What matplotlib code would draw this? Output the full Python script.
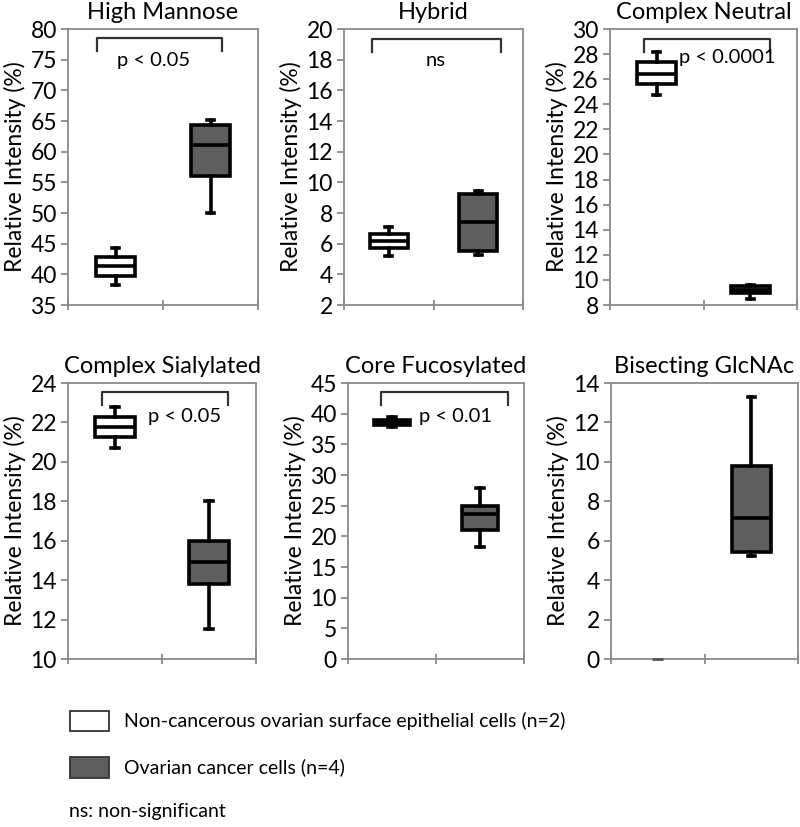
import matplotlib
matplotlib.use("Agg")
import matplotlib.pyplot as plt

plt.rcParams['font.family'] = ['Lato', 'DejaVu Sans']

titles = ["High Mannose", "Hybrid", "Complex Neutral",
          "Complex Sialylated", "Core Fucosylated", "Bisecting GlcNAc"]
ylims = [(35, 80), (2, 20), (8, 30), (10, 24), (0, 45), (0, 14)]
ysteps = [5, 2, 2, 2, 5, 2]

# [whislo, q1, med, q3, whishi]
normal = [
    [38.3, 39.8, 41.3, 42.8, 44.3],
    [5.2, 5.7, 6.2, 6.6, 7.1],
    [24.7, 25.6, 26.4, 27.4, 28.2],
    [20.7, 21.25, 21.75, 22.3, 22.8],
    [37.8, 38.2, 38.6, 39.0, 39.4],
    [0.0, 0.0, 0.0, 0.0, 0.0],
]
cancer = [
    [50.0, 56.1, 61.1, 64.3, 65.1],
    [5.25, 5.55, 7.4, 9.25, 9.45],
    [8.5, 8.95, 9.2, 9.5, 9.6],
    [11.5, 13.8, 14.9, 16.0, 18.0],
    [18.2, 21.0, 23.6, 25.0, 27.9],
    [5.2, 5.45, 7.15, 9.8, 13.3],
]
pvals = ["p < 0.05", "ns", "p < 0.0001", "p < 0.05", "p < 0.01", None]

legend_labels = ["Non-cancerous ovarian surface epithelial cells (n=2)",
                 "Ovarian cancer cells (n=4)"]
note = "ns: non-significant"

W, H = 800, 827
# axes pixel boxes (left, top, right, bottom)
boxes_px = [(68, 29, 258, 305), (344, 29, 523, 305), (610, 29, 797, 305),
            (68, 383, 256, 659), (348, 383, 524, 659), (611, 383, 798, 659)]
# bracket: x0, x1 (axes frac), y top, y tick bottom; text x, y
brackets = [
    (0.15, 0.81, 0.967, 0.92, 0.45, 0.885),
    (0.156, 0.877, 0.964, 0.917, 0.51, 0.885),
    (0.18, 0.856, 0.964, 0.917, 0.625, 0.895),
    (0.18, 0.85, 0.967, 0.92, 0.62, 0.877),
    (0.19, 0.91, 0.967, 0.92, 0.61, 0.878),
    None,
]

fig = plt.figure(figsize=(8, 8.27), dpi=100)
spine_c = "#8a8a8a"
fill_c = "#5e5e5e"

for i in range(6):
    l, t, r, b = boxes_px[i]
    ax = fig.add_axes([l / W, 1 - b / H, (r - l) / W, (b - t) / H])
    stats = []
    for vals in (normal[i], cancer[i]):
        stats.append(dict(whislo=vals[0], q1=vals[1], med=vals[2],
                          q3=vals[3], whishi=vals[4], fliers=[]))
    positions = [0.5, 1.5]
    if max(normal[i]) == 0:
        ax.plot([0.44, 0.56], [normal[i][2]] * 2, color="#555555", lw=2,
                solid_capstyle='butt', clip_on=False, zorder=3)
        st = [stats[1]]
        pos = [1.5]
        fills = [fill_c]
    else:
        st = stats
        pos = positions
        fills = ["white", fill_c]
    bp = ax.bxp(st, positions=pos, widths=0.42, patch_artist=True,
                showfliers=False, capwidths=0.08,
                boxprops=dict(edgecolor="black", linewidth=2.6),
                medianprops=dict(color="black", linewidth=2.6),
                whiskerprops=dict(color="black", linewidth=2.6),
                capprops=dict(color="black", linewidth=2.6))
    for patch, fc in zip(bp['boxes'], fills):
        patch.set_facecolor(fc)
    lo, hi = ylims[i]
    ax.set_ylim(lo, hi)
    ax.set_xlim(0, 2)
    ax.set_yticks(list(range(lo, hi + 1, ysteps[i])))
    ax.set_xticks([0, 1, 2])
    ax.set_xticklabels([])
    for s in ax.spines.values():
        s.set_color(spine_c)
        s.set_linewidth(1.3)
    ax.tick_params(axis='both', colors=spine_c, length=5, width=1.3,
                   labelsize=16.5, labelcolor="black", pad=3)
    ax.tick_params(axis='x', length=7, direction='inout')
    ax.set_ylabel("Relative Intensity (%)", fontsize=16.5, labelpad=3)
    ax.set_title(titles[i], fontsize=17, pad=7)
    br = brackets[i]
    if br is not None:
        x0, x1, yt, yb, tx, ty = br
        ax.plot([x0, x0, x1, x1], [yb, yt, yt, yb], transform=ax.transAxes,
                color="#333333", lw=1.6, clip_on=False)
        ax.text(tx, ty, pvals[i], transform=ax.transAxes, fontsize=14.5,
                ha='center', va='center')

# legend
fig.patches.append(plt.Rectangle((70 / W, 1 - 731 / H), 39 / W, 20 / H,
                                 transform=fig.transFigure, facecolor="white",
                                 edgecolor="#333333", lw=1.3))
fig.patches.append(plt.Rectangle((70 / W, 1 - 778 / H), 39 / W, 21 / H,
                                 transform=fig.transFigure, facecolor=fill_c,
                                 edgecolor="#333333", lw=1.3))
fig.text(124 / W, 1 - 721 / H, legend_labels[0], fontsize=14, va='center')
fig.text(124 / W, 1 - 767 / H, legend_labels[1], fontsize=14, va='center')
fig.text(69 / W, 1 - 812 / H, note, fontsize=14, va='center')

fig.savefig("out.png", dpi=100)
